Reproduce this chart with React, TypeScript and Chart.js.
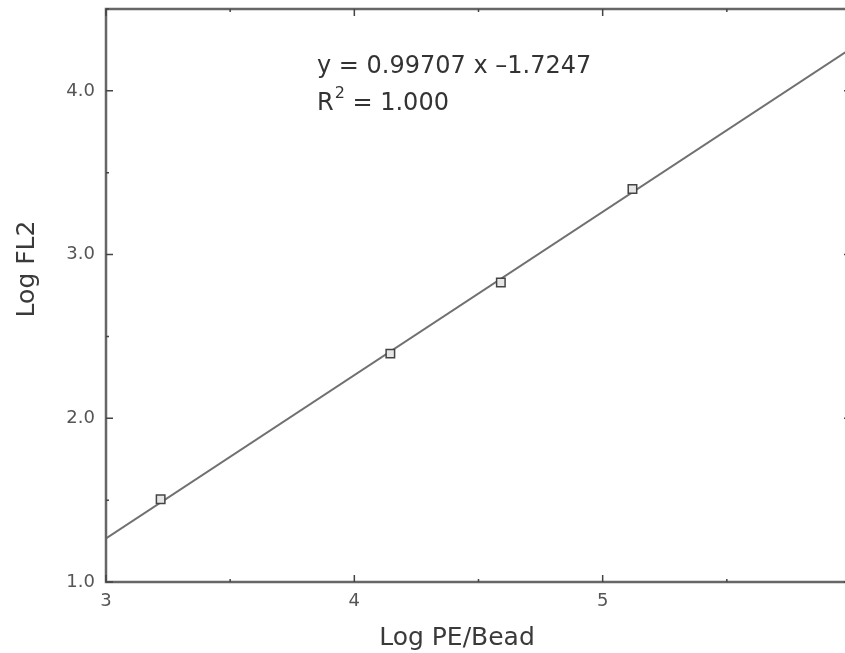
import React, { useEffect, useRef } from "react";
import { Chart, registerables } from "chart.js";

Chart.register(...registerables);

// ---- data ----
const logPE: number[] = [3.22, 4.145, 4.59, 5.12];
const logFL2: number[] = [1.505, 2.395, 2.83, 3.4];
// fitted line y = 0.99707 x - 1.7247, evaluated at the axis ends
const fitX: number[] = [3, 6];
const fitY: number[] = [1.2665, 4.2577];
const xTicks: number[] = [3, 4, 5, 6];
const yTicks: number[] = [1, 2, 3, 4];
const equationLines: string[] = ["y = 0.99707 x \u20131.7247", "R", "2", " = 1.000"];
const xTitle = "Log PE/Bead";
const yTitle = "Log FL2";

const FONT = "'DejaVu Sans', Verdana, sans-serif";

const framePlugin = {
  id: "frameTicks",
  afterDatasetsDraw(chart: any) {
    const { ctx, chartArea: a, scales } = chart;
    const xs = scales.x;
    const ys = scales.y;
    ctx.save();
    // frame
    ctx.strokeStyle = "#666";
    ctx.lineWidth = 2.5;
    ctx.strokeRect(a.left, a.top, a.right - a.left, a.bottom - a.top);
    // inward ticks (major at integers, minor at halves)
    ctx.strokeStyle = "#444";
    ctx.lineWidth = 1.5;
    for (let v = xs.min; v <= xs.max + 1e-9; v += 0.5) {
      const px = xs.getPixelForValue(v);
      const len = Math.abs(v - Math.round(v)) < 1e-9 ? 7 : 3;
      ctx.beginPath();
      ctx.moveTo(px, a.bottom);
      ctx.lineTo(px, a.bottom - len);
      ctx.moveTo(px, a.top);
      ctx.lineTo(px, a.top + len);
      ctx.stroke();
    }
    for (let v = ys.min; v <= ys.max + 1e-9; v += 0.5) {
      const py = ys.getPixelForValue(v);
      const len = Math.abs(v - Math.round(v)) < 1e-9 ? 7 : 3;
      ctx.beginPath();
      ctx.moveTo(a.left, py);
      ctx.lineTo(a.left + len, py);
      ctx.moveTo(a.right, py);
      ctx.lineTo(a.right - len, py);
      ctx.stroke();
    }
    // axis titles
    ctx.fillStyle = "#3a3a3a";
    ctx.font = `25px ${FONT}`;
    ctx.textAlign = "center";
    ctx.textBaseline = "alphabetic";
    ctx.fillText(xTitle, 457, 645);
    ctx.save();
    ctx.translate(34, 269);
    ctx.rotate(-Math.PI / 2);
    ctx.fillText(yTitle, 0, 0);
    ctx.restore();
    // equation annotation
    ctx.fillStyle = "#333";
    ctx.textAlign = "left";
    ctx.font = `24px ${FONT}`;
    const x0 = 317;
    ctx.fillText(equationLines[0], x0, 73);
    ctx.fillText(equationLines[1], x0, 110);
    const rW = ctx.measureText(equationLines[1]).width;
    ctx.font = `16px ${FONT}`;
    ctx.fillText(equationLines[2], x0 + rW + 1, 98);
    const sW = ctx.measureText(equationLines[2]).width;
    ctx.font = `24px ${FONT}`;
    ctx.fillText(equationLines[3], x0 + rW + sW + 1, 110);
    ctx.restore();
  },
};

export default function App() {
  const ref = useRef<HTMLCanvasElement | null>(null);
  useEffect(() => {
    if (!ref.current) return;
    const chart = new Chart(ref.current, {
      type: "scatter",
      data: {
        datasets: [
          {
            label: "fit",
            data: fitX.map((x, i) => ({ x, y: fitY[i] })),
            showLine: true,
            borderColor: "#707070",
            borderWidth: 2,
            pointRadius: 0,
            order: 2,
          },
          {
            label: "beads",
            data: logPE.map((x, i) => ({ x, y: logFL2[i] })),
            showLine: false,
            pointStyle: "rect",
            pointRadius: 6,
            pointBorderWidth: 1.5,
            pointBorderColor: "#444",
            pointBackgroundColor: "#e6e6e6",
            order: 1,
          },
        ],
      },
      options: {
        responsive: false,
        animation: false,
        devicePixelRatio: 1,
        layout: { padding: { top: 9, right: 19, bottom: 0, left: 0 } },
        plugins: { legend: { display: false }, tooltip: { enabled: false } },
        scales: {
          x: {
            type: "linear",
            min: 3,
            max: 6,
            grid: { display: false },
            border: { display: false },
            afterBuildTicks: (s: any) => {
              s.ticks = xTicks.map((v) => ({ value: v }));
            },
            ticks: {
              padding: 1,
              color: "#555",
              font: { family: FONT, size: 18 },
              callback: (v: any) => String(v),
            },
            afterFit: (s: any) => {
              s.height = 71;
              s.paddingLeft = 0;
              s.paddingRight = 0;
            },
          },
          y: {
            type: "linear",
            min: 1,
            max: 4.5,
            grid: { display: false },
            border: { display: false },
            afterBuildTicks: (s: any) => {
              s.ticks = yTicks.map((v) => ({ value: v }));
            },
            ticks: {
              padding: 3,
              color: "#555",
              font: { family: FONT, size: 18 },
              callback: (v: any) => Number(v).toFixed(1),
            },
            afterFit: (s: any) => {
              s.width = 106;
              s.paddingTop = 0;
              s.paddingBottom = 0;
            },
          },
        },
      },
      plugins: [framePlugin],
    });
    return () => chart.destroy();
  }, []);
  return (
    <div
      style={{
        position: "fixed",
        left: 0,
        top: 0,
        width: 845,
        height: 653,
        overflow: "hidden",
        background: "#fff",
      }}
    >
      <canvas ref={ref} width={870} height={653} style={{ display: "block" }} />
    </div>
  );
}
